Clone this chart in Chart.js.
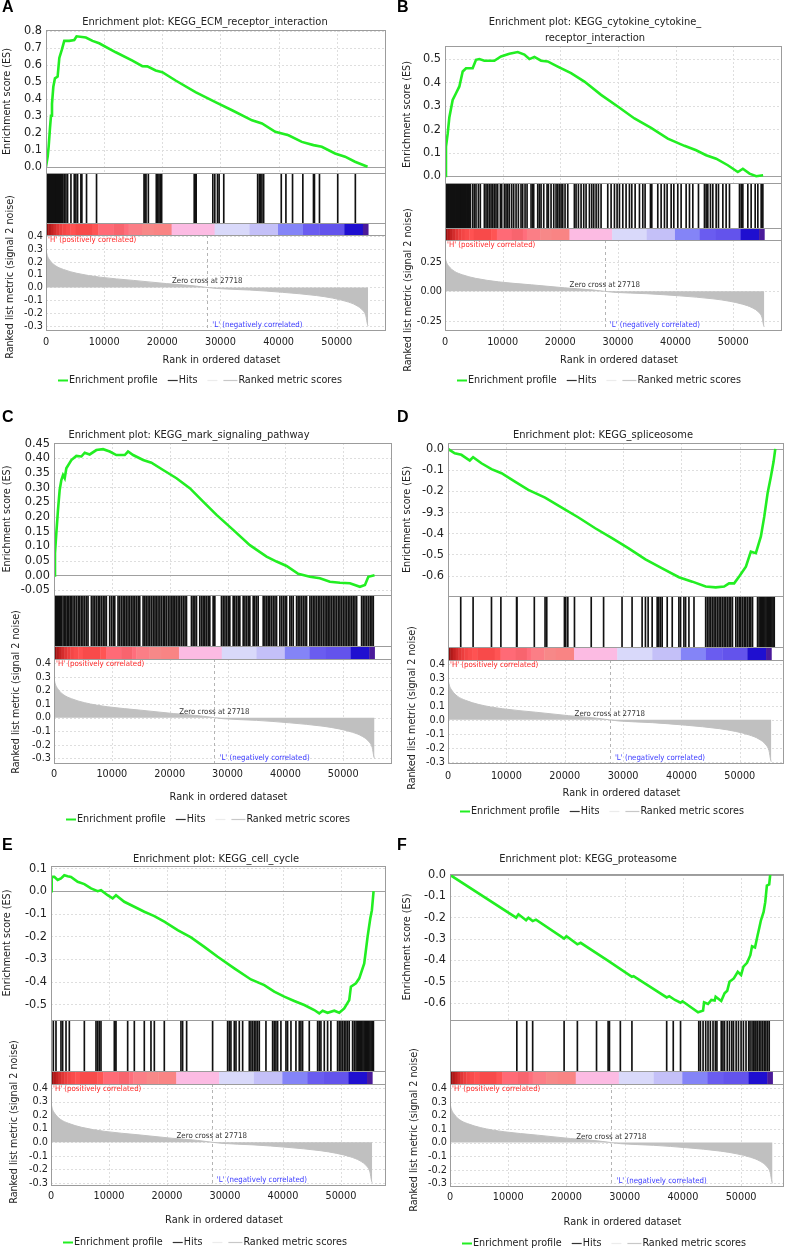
<!DOCTYPE html>
<html>
<head>
<meta charset="utf-8">
<script src="https://cdn.jsdelivr.net/npm/chart.js"></script>
<style>
	body { margin: 0; background: #fff; width: 785px; height: 1250px; position: relative; overflow: hidden; }
	canvas { position: absolute; }
</style>
</head>
<body>
<canvas id="pA"></canvas>
<canvas id="pB"></canvas>
<canvas id="pC"></canvas>
<canvas id="pD"></canvas>
<canvas id="pE"></canvas>
<canvas id="pF"></canvas>
<script>
const FONT = "'DejaVu Sans Condensed', 'Noto Sans', sans-serif";

// shared ranked list (same for every gene set)
const xTicks = [ 0, 10000, 20000, 30000, 40000, 50000 ];
const xTickLabels = [ '0', '10000', '20000', '30000', '40000', '50000' ];
const zeroCross = 27718;
const rankMetric = [
	[ 0, 0.30 ], [ 150, 0.26 ], [ 700, 0.21 ], [ 1600, 0.17 ], [ 3000, 0.14 ], [ 5300, 0.11 ],
	[ 9300, 0.08 ], [ 15000, 0.055 ], [ 20700, 0.03 ], [ 25300, 0.013 ], [ 27718, 0 ],
	[ 29300, -0.008 ], [ 35000, -0.02 ], [ 40700, -0.038 ], [ 46500, -0.063 ], [ 49300, -0.083 ],
	[ 51600, -0.108 ], [ 53300, -0.138 ], [ 54500, -0.18 ], [ 55000, -0.22 ], [ 55300, -0.29 ], [ 55400, -0.30 ],
];
const rankTicks = [ -0.3, -0.2, -0.1, 0, 0.1, 0.2, 0.3, 0.4 ];
const rankLabels = [ '-0.3', '-0.2', '-0.1', '0.0', '0.1', '0.2', '0.3', '0.4' ];
const rankTicksB = [ -0.25, 0, 0.25 ];
const rankLabelsB = [ '-0.25', '0.00', '0.25' ];

const bandEdges = [ 0, 400, 800, 1300, 1800, 2300, 2800, 3400, 4200, 5000, 8000, 9000, 11600, 13500, 14200, 16500, 18500, 21600, 29000, 35000, 39900, 44200, 47000, 51300, 54500, 55400 ];
const bandColors = [ '#8c0e0e', '#b01a1a', '#c42222', '#d42c2c', '#e23636', '#ec3e3e', '#f44646', '#fa4c4c', '#ff5252', '#f84a4a', '#ff5454', '#ff6a76', '#f8646e', '#ff6e7c', '#fb7e86', '#f78888', '#f98484', '#fcbbe3', '#d9d9fa', '#c4c0f8', '#8484f7', '#6a5cf0', '#6353ec', '#1f0fd0', '#4a1a9a' ];

const legendColors = [ '#22ee22', '#333333', '#ececec', '#c8c8c8' ];
const legendLabels = [ 'Enrichment profile', 'Hits', '', 'Ranked metric scores' ];

// A - ECM receptor interaction
const esA = [ [ 0, 0 ], [ 290, 0.06 ], [ 460, 0.12 ], [ 690, 0.23 ], [ 860, 0.30 ], [ 1030, 0.37 ], [ 1260, 0.47 ], [ 1540, 0.52 ], [ 2000, 0.53 ], [ 2290, 0.64 ], [ 2740, 0.69 ], [ 3140, 0.74 ], [ 4000, 0.74 ], [ 4860, 0.745 ], [ 5260, 0.767 ], [ 6860, 0.76 ], [ 8000, 0.74 ], [ 9140, 0.726 ], [ 12000, 0.673 ], [ 14860, 0.624 ], [ 16570, 0.591 ], [ 17430, 0.59 ], [ 18860, 0.566 ], [ 20000, 0.556 ], [ 22290, 0.507 ], [ 25710, 0.439 ], [ 29140, 0.38 ], [ 32000, 0.332 ], [ 35430, 0.273 ], [ 37140, 0.254 ], [ 39430, 0.205 ], [ 41710, 0.185 ], [ 44000, 0.146 ], [ 46000, 0.127 ], [ 47430, 0.117 ], [ 49710, 0.078 ], [ 51430, 0.059 ], [ 53140, 0.029 ], [ 55300, 0 ] ];
const hitsA = [ 60, 200, 330, 480, 600, 750, 880, 1020, 1150, 1300, 1450, 1580, 1720, 1850, 2000, 2150, 2300, 2450, 2600, 2750, 2900, 3140, 3430, 3710, 4290, 4860, 5140, 5430, 6000, 6170, 6970, 8690, 16860, 17030, 17200, 17600, 18970, 19200, 19430, 19660, 19890, 25490, 25660, 25830, 28690, 29030, 29490, 29770, 30570, 36400, 36690, 36910, 37140, 37430, 40460, 41260, 42400, 44170, 46000, 46170, 47030, 50170, 53200 ];
const esTicksA = [ 0, 0.1, 0.2, 0.3, 0.4, 0.5, 0.6, 0.7, 0.8 ];
const esLabelsA = [ '0.0', '0.1', '0.2', '0.3', '0.4', '0.5', '0.6', '0.7', '0.8' ];

// B - cytokine cytokine receptor interaction
const esB = [ [ 0, 0 ], [ 170, 0.125 ], [ 460, 0.18 ], [ 750, 0.25 ], [ 1330, 0.325 ], [ 1910, 0.354 ], [ 2490, 0.383 ], [ 3070, 0.447 ], [ 3650, 0.461 ], [ 4800, 0.461 ], [ 5380, 0.497 ], [ 5960, 0.50 ], [ 6830, 0.493 ], [ 8560, 0.493 ], [ 9720, 0.511 ], [ 11170, 0.523 ], [ 12620, 0.53 ], [ 13770, 0.519 ], [ 14640, 0.50 ], [ 15510, 0.509 ], [ 16670, 0.493 ], [ 17820, 0.49 ], [ 19560, 0.468 ], [ 21870, 0.44 ], [ 24190, 0.404 ], [ 27080, 0.347 ], [ 29980, 0.297 ], [ 32870, 0.246 ], [ 35760, 0.206 ], [ 38660, 0.16 ], [ 41550, 0.129 ], [ 43580, 0.11 ], [ 45310, 0.089 ], [ 47050, 0.074 ], [ 49070, 0.046 ], [ 50810, 0.017 ], [ 51680, 0.031 ], [ 52840, 0.01 ], [ 54000, -0.001 ], [ 55200, 0.003 ] ];
const hitsB = [ 50, 180, 300, 420, 560, 700, 820, 950, 1100, 1230, 1360, 1500, 1640, 1780, 1900, 2050, 2200, 2330, 2470, 2600, 2750, 2900, 3050, 3200, 3350, 3500, 3650, 3800, 3950, 4100, 4250, 4400, 4800, 5090, 5380, 5790, 6130, 6830, 7120, 7410, 7700, 7990, 8280, 8560, 8850, 9140, 9610, 9840, 10300, 10590, 10880, 11170, 11570, 11920, 12330, 12730, 13190, 13480, 13890, 14240, 14930, 15220, 15390, 16090, 16380, 16670, 17130, 17710, 17940, 18400, 18870, 19270, 19560, 19850, 20140, 20430, 20830, 21300, 22450, 22740, 23150, 23610, 24070, 24480, 25060, 25460, 25810, 26220, 26620, 27080, 28240, 28820, 29400, 29860, 30270, 30850, 31420, 32000, 32410, 32990, 33740, 34320, 34720, 35650, 35880, 36920, 37500, 38080, 38540, 39240, 39700, 40390, 40970, 41840, 42420, 43000, 43980, 45020, 45310, 45600, 46060, 46470, 47050, 47450, 48210, 48780, 49360, 51100, 51390, 51680, 52540, 53120, 53820, 54280, 54860, 55150 ];
const esTicksB = [ 0, 0.1, 0.2, 0.3, 0.4, 0.5 ];
const esLabelsB = [ '0.0', '0.1', '0.2', '0.3', '0.4', '0.5' ];

// C - mark signaling pathway
const esC = [ [ 0, 0 ], [ 170, 0.075 ], [ 400, 0.143 ], [ 690, 0.223 ], [ 980, 0.291 ], [ 1270, 0.325 ], [ 1560, 0.342 ], [ 1850, 0.331 ], [ 2130, 0.365 ], [ 3000, 0.393 ], [ 3860, 0.407 ], [ 4730, 0.405 ], [ 5310, 0.418 ], [ 6170, 0.412 ], [ 7320, 0.427 ], [ 8480, 0.43 ], [ 9630, 0.422 ], [ 10780, 0.41 ], [ 12230, 0.41 ], [ 12800, 0.422 ], [ 13670, 0.41 ], [ 15400, 0.393 ], [ 16840, 0.384 ], [ 18860, 0.359 ], [ 21170, 0.331 ], [ 23470, 0.297 ], [ 25780, 0.251 ], [ 28090, 0.206 ], [ 30970, 0.155 ], [ 33850, 0.103 ], [ 36740, 0.064 ], [ 38470, 0.047 ], [ 40200, 0.032 ], [ 42210, 0.005 ], [ 44230, -0.005 ], [ 45960, -0.01 ], [ 47690, -0.022 ], [ 49420, -0.025 ], [ 51150, -0.027 ], [ 52880, -0.039 ], [ 53750, -0.033 ], [ 54330, -0.005 ], [ 55400, 0 ] ];
const hitsC = [ 40, 150, 260, 370, 480, 590, 700, 810, 920, 1030, 1140, 1250, 1560, 1800, 2050, 2300, 2550, 2800, 3000, 3290, 3600, 3900, 4200, 4440, 4730, 5000, 5300, 5600, 5880, 6460, 6750, 7050, 7350, 7650, 7900, 8190, 8500, 8800, 9050, 9630, 9950, 10250, 10500, 11070, 11350, 11650, 11950, 12230, 12510, 12800, 13100, 13400, 13670, 13960, 14250, 14550, 14820, 15400, 15700, 15970, 16260, 16550, 16850, 17150, 17450, 17700, 17990, 18300, 18600, 18900, 19150, 19430, 19750, 20050, 20350, 20590, 20880, 21150, 21450, 21740, 22050, 22350, 22650, 22900, 23760, 24050, 24350, 24630, 25200, 25500, 25780, 26070, 26350, 26650, 26930, 27510, 27800, 28950, 29250, 29550, 29850, 30150, 30390, 30970, 31250, 31550, 31850, 32120, 32700, 33000, 33300, 33600, 33850, 34430, 34700, 35000, 35290, 36160, 36450, 36740, 37020, 37300, 37600, 37900, 38200, 38470, 39040, 39350, 39650, 39950, 40200, 40770, 41050, 41350, 41930, 42200, 42500, 42800, 43100, 43400, 43660, 44230, 44500, 44800, 45100, 45400, 45700, 45960, 46250, 46550, 46850, 47150, 47400, 47690, 47980, 48270, 48560, 48850, 49150, 49420, 49710, 50000, 50300, 50580, 50870, 51150, 51450, 51730, 52020, 52310, 53170, 53450, 53750, 54050, 54350, 54650, 54950, 55190 ];
const esTicksC = [ -0.05, 0, 0.05, 0.1, 0.15, 0.2, 0.25, 0.3, 0.35, 0.4, 0.45 ];
const esLabelsC = [ '-0.05', '0.00', '0.05', '0.10', '0.15', '0.20', '0.25', '0.30', '0.35', '0.40', '0.45' ];

// D - spliceosome
const esD = [ [ 0, 0 ], [ 1150, -0.021 ], [ 2290, -0.028 ], [ 3730, -0.055 ], [ 4300, -0.039 ], [ 5730, -0.068 ], [ 7450, -0.096 ], [ 9170, -0.115 ], [ 11470, -0.155 ], [ 13760, -0.194 ], [ 16630, -0.231 ], [ 19500, -0.278 ], [ 22360, -0.325 ], [ 25230, -0.376 ], [ 28100, -0.423 ], [ 30960, -0.471 ], [ 33830, -0.523 ], [ 36700, -0.566 ], [ 39570, -0.608 ], [ 41860, -0.629 ], [ 44150, -0.652 ], [ 45870, -0.656 ], [ 47310, -0.652 ], [ 48160, -0.637 ], [ 49030, -0.637 ], [ 49890, -0.605 ], [ 51040, -0.558 ], [ 51890, -0.487 ], [ 52750, -0.494 ], [ 53610, -0.415 ], [ 54190, -0.321 ], [ 54760, -0.21 ], [ 55330, -0.131 ], [ 55790, -0.06 ], [ 56080, 0 ] ];
const hitsD = [ 2180, 4300, 7450, 9060, 11750, 11810, 14790, 16630, 16920, 19950, 20180, 20530, 21670, 24540, 26660, 29820, 31540, 33260, 33830, 34290, 34980, 35840, 36120, 36410, 36700, 37560, 38420, 39560, 39850, 40420, 40710, 41280, 42150, 44150, 44440, 44730, 45010, 45300, 45590, 45870, 46160, 46450, 46730, 47020, 47310, 47590, 47880, 48170, 48450, 48740, 49310, 49600, 49890, 50170, 50460, 50750, 51030, 51320, 51610, 51890, 52180, 53040, 53300, 53500, 53700, 53900, 54100, 54300, 54500, 54700, 54900, 55100, 55300, 55500, 55700, 55900 ];
const esTicksD = [ -0.6, -0.5, -0.4, -0.3, -0.2, -0.1, 0 ];
const esLabelsD = [ '-0.6', '-0.5', '-0.4', '-9.3', '-0.2', '-0.1', '0.0' ];

// E - cell cycle
const esE = [ [ 0, 0 ], [ 120, 0.063 ], [ 570, 0.063 ], [ 1150, 0.049 ], [ 1720, 0.056 ], [ 2300, 0.07 ], [ 2870, 0.066 ], [ 3450, 0.063 ], [ 4600, 0.041 ], [ 5750, 0.031 ], [ 6900, 0.012 ], [ 8050, 0 ], [ 8620, 0.004 ], [ 9770, -0.018 ], [ 10630, -0.032 ], [ 11210, -0.018 ], [ 12640, -0.047 ], [ 14370, -0.069 ], [ 16090, -0.091 ], [ 17820, -0.11 ], [ 19540, -0.135 ], [ 21840, -0.172 ], [ 24140, -0.204 ], [ 26440, -0.246 ], [ 28740, -0.29 ], [ 31610, -0.341 ], [ 34480, -0.39 ], [ 36780, -0.415 ], [ 38500, -0.444 ], [ 40230, -0.466 ], [ 41950, -0.485 ], [ 43680, -0.503 ], [ 45400, -0.525 ], [ 46260, -0.54 ], [ 46840, -0.528 ], [ 47700, -0.537 ], [ 48850, -0.528 ], [ 49710, -0.537 ], [ 50570, -0.518 ], [ 51430, -0.481 ], [ 51720, -0.422 ], [ 52580, -0.407 ], [ 53160, -0.385 ], [ 54020, -0.319 ], [ 54600, -0.201 ], [ 55060, -0.121 ], [ 55340, -0.084 ], [ 55630, 0 ] ];
const hitsE = [ 400, 860, 1720, 2010, 2590, 3160, 5750, 7760, 8050, 8330, 8620, 10920, 11030, 11210, 13220, 14370, 16090, 17240, 17820, 19540, 22410, 22700, 23390, 27870, 30460, 30750, 31030, 31610, 31900, 32470, 33050, 34200, 34480, 34770, 35060, 35340, 35630, 35920, 37070, 38220, 38500, 38790, 39080, 39650, 40520, 40800, 41380, 42240, 42810, 43100, 43390, 44540, 45980, 46260, 46550, 47130, 47700, 48270, 49420, 49710, 50000, 50280, 50570, 50860, 51150, 51430, 52010, 52300, 52600, 52800, 53000, 53200, 53400, 53600, 53800, 54000, 54200, 54400, 54600, 54800, 55000, 55200, 55400, 55600 ];
const esTicksE = [ -0.5, -0.4, -0.3, -0.2, -0.1, 0, 0.1 ];
const esLabelsE = [ '-0.5', '-0.4', '-0.3', '-0.2', '-0.1', '0.0', '0.1' ];

// F - proteasome
const esF = [ [ 0, 0 ], [ 11360, -0.201 ], [ 11760, -0.185 ], [ 13070, -0.213 ], [ 13470, -0.201 ], [ 14200, -0.217 ], [ 14770, -0.21 ], [ 19600, -0.299 ], [ 20000, -0.288 ], [ 21880, -0.326 ], [ 22440, -0.319 ], [ 26990, -0.40 ], [ 31250, -0.478 ], [ 31540, -0.475 ], [ 37220, -0.575 ], [ 37670, -0.569 ], [ 38640, -0.587 ], [ 39600, -0.60 ], [ 39940, -0.593 ], [ 42610, -0.645 ], [ 43470, -0.637 ], [ 43640, -0.598 ], [ 44320, -0.606 ], [ 44890, -0.587 ], [ 45460, -0.59 ], [ 45630, -0.572 ], [ 46590, -0.592 ], [ 47160, -0.556 ], [ 47620, -0.544 ], [ 48010, -0.502 ], [ 48750, -0.486 ], [ 49430, -0.455 ], [ 50000, -0.47 ], [ 50400, -0.431 ], [ 51020, -0.413 ], [ 51590, -0.377 ], [ 51880, -0.335 ], [ 52390, -0.341 ], [ 52840, -0.283 ], [ 53130, -0.248 ], [ 53410, -0.213 ], [ 53870, -0.174 ], [ 54150, -0.128 ], [ 54430, -0.05 ], [ 54830, -0.045 ], [ 55000, 0 ] ];
const hitsF = [ 11480, 13180, 14200, 19600, 21880, 25170, 27160, 27390, 29260, 31250, 37220, 38350, 39600, 42730, 43010, 43470, 43920, 44320, 44720, 45180, 45580, 45850, 46590, 46880, 47160, 47620, 48010, 48410, 48700, 49150, 49550, 50000, 50400, 50850, 51310, 51540, 51880, 52160, 52390, 52560, 52840, 53130, 53410, 53700, 53980, 54260, 54550, 54830 ];
const esTicksF = [ -0.6, -0.5, -0.4, -0.3, -0.2, -0.1, 0 ];
const esLabelsF = [ '-0.6', '-0.5', '-0.4', '-0.3', '-0.2', '-0.1', '0.0' ];

// page geometry of each panel (px)
const panels = [
	{ id: 'pA', letter: 'A', box: [ 0, 0, 392, 400 ], title: [ 'Enrichment plot: KEGG_ECM_receptor_interaction' ], titleX: 205, titleY: [ 22 ],
		es: esA, hits: hitsA, esTicks: esTicksA, esLabels: esLabelsA, rTicks: rankTicks, rLabels: rankLabels,
		L: 46, R: 385, T: 30, esB: 173, hitB: 223, cbB: 235, rankB: 330, esMin: -0.037, esMax: 0.804, rMin: -0.331, rMax: 0.408, xMax: 58300,
		xTickY: 343, xTitleY: 360, legY: 380, esTitleX: 7, rTitleX: 10, rTitleY: 277 },
	{ id: 'pB', letter: 'B', box: [ 393, 0, 392, 400 ], title: [ 'Enrichment plot: KEGG_cytokine_cytokine_', 'receptor_interaction' ], titleX: 595, titleY: [ 22, 38 ],
		es: esB, hits: hitsB, esTicks: esTicksB, esLabels: esLabelsB, rTicks: rankTicksB, rLabels: rankLabelsB,
		L: 445, R: 781, T: 46, esB: 183, hitB: 228, cbB: 240, rankB: 330, esMin: -0.03, esMax: 0.556, rMin: -0.326, rMax: 0.433, xMax: 58300,
		xTickY: 343, xTitleY: 360, legY: 380, esTitleX: 407, rTitleX: 408, rTitleY: 290 },
	{ id: 'pC', letter: 'C', box: [ 0, 410, 392, 420 ], title: [ 'Enrichment plot: KEGG_mark_signaling_pathway' ], titleX: 189, titleY: [ 435 ],
		es: esC, hits: hitsC, esTicks: esTicksC, esLabels: esLabelsC, rTicks: rankTicks, rLabels: rankLabels,
		L: 54, R: 391, T: 443, esB: 595, hitB: 646, cbB: 659, rankB: 763, esMin: -0.067, esMax: 0.451, rMin: -0.334, rMax: 0.432, xMax: 58250,
		xTickY: 775, xTitleY: 797, legY: 819, esTitleX: 7, rTitleX: 16, rTitleY: 692 },
	{ id: 'pD', letter: 'D', box: [ 393, 410, 392, 420 ], title: [ 'Enrichment plot: KEGG_spliceosome' ], titleX: 603, titleY: [ 435 ],
		es: esD, hits: hitsD, esTicks: esTicksD, esLabels: esLabelsD, rTicks: rankTicks, rLabels: rankLabels,
		L: 448, R: 783, T: 443, esB: 596, hitB: 647, cbB: 660, rankB: 763, esMin: -0.697, esMax: 0.028, rMin: -0.309, rMax: 0.429, xMax: 57400,
		xTickY: 777, xTitleY: 793, legY: 811, esTitleX: 407, rTitleX: 412, rTitleY: 708 },
	{ id: 'pE', letter: 'E', box: [ 0, 838, 392, 412 ], title: [ 'Enrichment plot: KEGG_cell_cycle' ], titleX: 216, titleY: [ 859 ],
		es: esE, hits: hitsE, esTicks: esTicksE, esLabels: esLabelsE, rTicks: rankTicks, rLabels: rankLabels,
		L: 51, R: 385, T: 866, esB: 1020, hitB: 1071, cbB: 1084, rankB: 1185, esMin: -0.569, esMax: 0.111, rMin: -0.317, rMax: 0.431, xMax: 57600,
		xTickY: 1197, xTitleY: 1220, legY: 1242, esTitleX: 7, rTitleX: 14, rTitleY: 1122 },
	{ id: 'pF', letter: 'F', box: [ 393, 838, 392, 412 ], title: [ 'Enrichment plot: KEGG_proteasome' ], titleX: 588, titleY: [ 859 ],
		es: esF, hits: hitsF, esTicks: esTicksF, esLabels: esLabelsF, rTicks: rankTicks, rLabels: rankLabels,
		L: 450, R: 783, T: 874, esB: 1020, hitB: 1071, cbB: 1084, rankB: 1186, esMin: -0.681, esMax: 0.004, rMin: -0.32, rMax: 0.432, xMax: 57200,
		xTickY: 1198, xTitleY: 1222, legY: 1243, esTitleX: 407, rTitleX: 414, rTitleY: 1130 },
];

const decor = ( p ) => {
	const ox = p.box[ 0 ], oy = p.box[ 1 ];
	const txt = ( ctx, str, x, y, font, color, align = 'center', rot = 0 ) => {
		ctx.save();
		ctx.translate( x - ox, y - oy );
		if ( rot ) ctx.rotate( rot );
		ctx.font = font;
		ctx.fillStyle = color;
		ctx.textAlign = align;
		ctx.textBaseline = 'middle';
		ctx.fillText( str, 0, 0 );
		ctx.restore();
	};
	return {
		id: 'decor' + p.letter,
		beforeDatasetsDraw( chart ) {
			const { ctx, chartArea: a, scales: s } = chart;
			const hline = ( y ) => {
				ctx.beginPath(); ctx.moveTo( a.left, y ); ctx.lineTo( a.right, y ); ctx.stroke();
			};
			const vline = ( x, y0, y1 ) => {
				ctx.beginPath(); ctx.moveTo( x, y0 ); ctx.lineTo( x, y1 ); ctx.stroke();
			};
			ctx.save();
			ctx.lineWidth = 1;
			ctx.strokeStyle = '#dedede';
			ctx.setLineDash( [ 2, 2 ] );
			xTicks.forEach( ( v ) => {
				const px = Math.round( s.x.getPixelForValue( v ) ) + 0.5;
				vline( px, s.yES.top, s.yES.bottom );
				vline( px, s.yRank.top, s.yRank.bottom );
			} );
			p.esTicks.forEach( ( v ) => {
				if ( v !== 0 ) hline( Math.round( s.yES.getPixelForValue( v ) ) + 0.5 );
			} );
			p.rTicks.forEach( ( v ) => hline( Math.round( s.yRank.getPixelForValue( v ) ) + 0.5 ) );
			ctx.setLineDash( [] );
			ctx.strokeStyle = '#a0a0a0';
			hline( Math.round( s.yES.getPixelForValue( 0 ) ) + 0.5 );
			// colour bar of the ranked list
			bandColors.forEach( ( c, i ) => {
				const x0 = s.x.getPixelForValue( bandEdges[ i ] );
				const x1 = s.x.getPixelForValue( bandEdges[ i + 1 ] );
				ctx.fillStyle = c;
				ctx.fillRect( x0, s.yCB.top, x1 - x0 + 0.4, s.yCB.bottom - s.yCB.top );
			} );
			ctx.strokeStyle = '#b4b4b4';
			ctx.setLineDash( [ 3, 3 ] );
			vline( Math.round( s.x.getPixelForValue( zeroCross ) ) + 0.5, s.yRank.top, s.yRank.bottom );
			ctx.restore();
		},
		afterDraw( chart ) {
			const { ctx, chartArea: a, scales: s } = chart;
			ctx.save();
			ctx.strokeStyle = '#9c9c9c';
			ctx.lineWidth = 1;
			[ s.yES, s.yHit, s.yCB, s.yRank ].forEach( ( sc ) => {
				ctx.strokeRect( Math.round( a.left ) + 0.5, Math.round( sc.top ) + 0.5,
					Math.round( a.right - a.left ), Math.round( sc.bottom - sc.top ) );
			} );
			ctx.restore();

			// panel letter and title
			txt( ctx, p.letter, ( p.box[ 0 ] ? 397 : 2 ), p.box[ 1 ] + 8, "bold 16px 'Liberation Sans', Arial, sans-serif", '#000', 'left' );
			p.title.forEach( ( t, i ) => txt( ctx, t, p.titleX, p.titleY[ i ], `11px ${ FONT }`, '#222' ) );

			// axis titles
			txt( ctx, 'Enrichment score (ES)', p.esTitleX, ( p.T + p.esB ) / 2, `10.7px ${ FONT }`, '#222', 'center', -Math.PI / 2 );
			txt( ctx, 'Ranked list metric (signal 2 noise)', p.rTitleX, p.rTitleY, `10.7px ${ FONT }`, '#222', 'center', -Math.PI / 2 );
			txt( ctx, 'Rank in ordered dataset', ( p.L + p.R ) / 2 + 6, p.xTitleY, `10.9px ${ FONT }`, '#222' );

			// ranked list annotations
			const zx = s.x.getPixelForValue( zeroCross ) + ox;
			const zy = s.yRank.getPixelForValue( 0 ) + oy;
			txt( ctx, 'Zero cross at 27718', zx, zy - 6, `7.8px ${ FONT }`, '#333' );
			txt( ctx, "'H' (positively correlated)", p.L + 2, p.cbB + 5, `7.8px ${ FONT }`, '#ff2a2a', 'left' );
			txt( ctx, "'L' (negatively correlated)", s.x.getPixelForValue( 28600 ) + ox, p.rankB - 5, `7.8px ${ FONT }`, '#3a3aff', 'left' );

			// legend
			ctx.save();
			ctx.font = `10.7px ${ FONT }`;
			let lx = p.L + 12;
			const ly = p.legY;
			legendColors.forEach( ( c, i ) => {
				const len = i === 3 ? 14 : 10;
				ctx.strokeStyle = c;
				ctx.lineWidth = i === 0 ? 2 : 1.2;
				ctx.beginPath();
				ctx.moveTo( lx - ox, ly - oy + 0.5 );
				ctx.lineTo( lx + len - ox, ly - oy + 0.5 );
				ctx.stroke();
				lx += len + 1;
				if ( legendLabels[ i ] ) {
					txt( ctx, legendLabels[ i ], lx, ly, `10.7px ${ FONT }`, '#222', 'left' );
					lx += ctx.measureText( legendLabels[ i ] ).width + 10;
				} else {
					lx += 5;
				}
			} );
			ctx.restore();
		},
	};
};

const makeChart = ( p ) => {
	const [ ox, oy, w, h ] = p.box;
	const cv = document.getElementById( p.id );
	cv.width = w;
	cv.height = h;
	cv.style.left = ox + 'px';
	cv.style.top = oy + 'px';
	const axisW = p.L - ox;
	const xH = 22;
	const fixW = ( sc ) => {
		sc.width = axisW;
	};
	const noGrid = { display: false, drawTicks: false, offset: false };
	const tickFont = ( size ) => ( { family: FONT, size: size } );
	return new Chart( cv, {
		type: 'line',
		data: {
			datasets: [
				{
					type: 'line',
					data: p.es.map( ( d ) => ( { x: d[ 0 ], y: d[ 1 ] } ) ),
					yAxisID: 'yES',
					borderColor: '#22ee22',
					borderWidth: 2.6,
					pointRadius: 0,
					tension: 0,
				},
				{
					type: 'bar',
					data: p.hits.map( ( v ) => ( { x: v, y: [ 0, 1 ] } ) ),
					yAxisID: 'yHit',
					backgroundColor: '#111',
					borderWidth: 0,
					barThickness: 1,
				},
				{
					type: 'line',
					data: rankMetric.map( ( d ) => ( { x: d[ 0 ], y: d[ 1 ] } ) ),
					yAxisID: 'yRank',
					fill: 'origin',
					backgroundColor: '#c0c0c0',
					borderColor: '#c0c0c0',
					borderWidth: 1,
					pointRadius: 0,
					cubicInterpolationMode: 'monotone',
				},
			],
		},
		options: {
			responsive: false,
			animation: false,
			devicePixelRatio: 1,
			events: [],
			layout: {
				padding: { left: 0, top: p.T - oy, right: ox + w - p.R, bottom: oy + h - p.rankB - xH },
			},
			plugins: { legend: { display: false }, tooltip: { enabled: false } },
			scales: {
				x: {
					type: 'linear', min: 0, max: p.xMax, offset: false,
					afterBuildTicks: ( sc ) => { sc.ticks = xTicks.map( ( v ) => ( { value: v } ) ); },
					ticks: { font: tickFont( 10.8 ), color: '#222', padding: p.xTickY - p.rankB - 7, maxRotation: 0, autoSkip: false,
						callback: ( v, i ) => xTickLabels[ i ] },
					grid: noGrid, border: { display: false },
					afterFit: ( sc ) => { sc.height = xH; },
				},
				yES: {
					type: 'linear', position: 'left', stack: 'gsea', stackWeight: p.esB - p.T, weight: 4,
					min: p.esMin, max: p.esMax,
					afterBuildTicks: ( sc ) => { sc.ticks = p.esTicks.map( ( v ) => ( { value: v } ) ); },
					ticks: { font: tickFont( 12.6 ), color: '#222', padding: 4, autoSkip: false, callback: ( v, i ) => p.esLabels[ i ] },
					grid: noGrid, border: { display: false },
					afterFit: fixW,
				},
				yHit: {
					type: 'linear', position: 'left', stack: 'gsea', stackWeight: p.hitB - p.esB, weight: 3,
					min: 0, max: 1, ticks: { display: false }, grid: noGrid, border: { display: false },
					afterFit: fixW,
				},
				yCB: {
					type: 'linear', position: 'left', stack: 'gsea', stackWeight: p.cbB - p.hitB, weight: 2,
					min: 0, max: 1, ticks: { display: false }, grid: noGrid, border: { display: false },
					afterFit: fixW,
				},
				yRank: {
					type: 'linear', position: 'left', stack: 'gsea', stackWeight: p.rankB - p.cbB, weight: 1,
					min: p.rMin, max: p.rMax,
					afterBuildTicks: ( sc ) => { sc.ticks = p.rTicks.map( ( v ) => ( { value: v } ) ); },
					ticks: { font: tickFont( 10.8 ), color: '#222', padding: 3, autoSkip: false, callback: ( v, i ) => p.rLabels[ i ] },
					grid: noGrid, border: { display: false },
					afterFit: fixW,
				},
			},
		},
		plugins: [ decor( p ) ],
	} );
};

panels.forEach( makeChart );
</script>
</body>
</html>
